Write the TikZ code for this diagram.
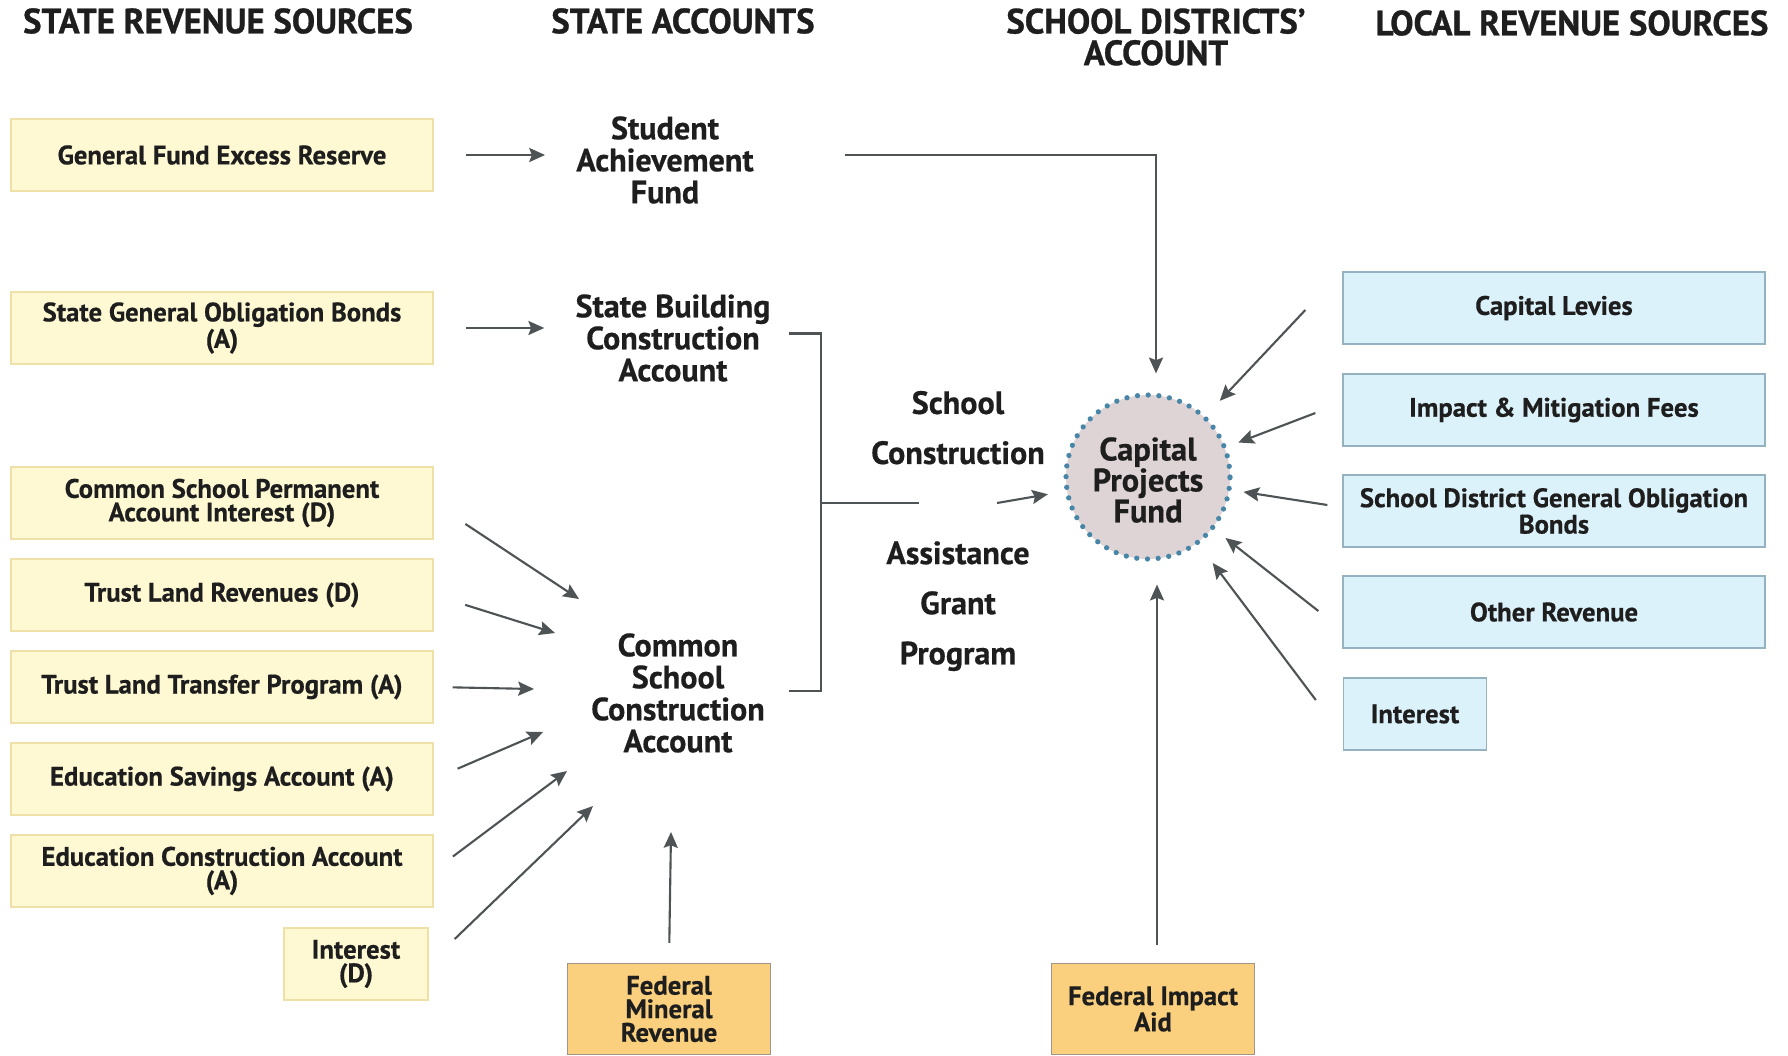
\documentclass[tikz,border=0pt]{standalone}
\usepackage{fontspec}
\setmainfont{PT Sans}[BoldFeatures={FakeBold=0.5}]
\newfontfamily\headfont{PT Sans}[FakeStretch=0.99, BoldFeatures={FakeBold=0.8}]
\usetikzlibrary{arrows.meta,positioning,calc}
\definecolor{Y}{RGB}{254,249,210}
\definecolor{Yb}{RGB}{238,224,166}
\definecolor{O}{RGB}{250,208,126}
\definecolor{Ob}{RGB}{160,150,135}
\definecolor{Bl}{RGB}{220,242,250}
\definecolor{Blb}{RGB}{150,178,192}
\definecolor{P}{RGB}{222,212,214}
\definecolor{D}{RGB}{72,134,168}
\definecolor{Ar}{RGB}{78,84,86}
\definecolor{T}{RGB}{30,30,30}
\tikzstyle{src} = [rectangle, draw=Yb, line width=0.8pt, fill=Y,
  minimum width=8.44cm, minimum height=1.44cm, align=center, text=T,
  font=\bfseries\fontsize{15.2}{13.4}\selectfont]
\tikzstyle{loc} = [src, draw=Blb, fill=Bl]
\tikzstyle{fed} = [src, draw=Ob, fill=O, minimum width=4.06cm, minimum height=1.82cm]
\tikzstyle{acct} = [align=center, inner sep=0pt, text=T,
  font=\bfseries\fontsize{18.3}{18.2}\selectfont]
\tikzstyle{hdr} = [align=center, inner sep=0pt, text=T,
  font=\headfont\bfseries\fontsize{20}{18}\selectfont]
\tikzstyle{pot} = [circle, fill=P, draw=D, line width=3pt, line cap=round,
  dash pattern=on 0pt off 6.1pt, minimum size=3.28cm, inner sep=0pt]
\tikzstyle{link} = [draw=Ar, line width=1.2pt]
\tikzstyle{flow} = [link, -{Stealth[length=9pt,width=8pt,inset=1.5pt]}]

\begin{document}
\begin{tikzpicture}[x=0.02cm, y=-0.02cm,
    node distance=1.84cm, % step between the trust land boxes
  ]
    \useasboundingbox[fill=white] (0,0) rectangle (1788,1055);

    % column titles
    \node[hdr] (h1) at (218,21) {STATE REVENUE SOURCES};
    \node[hdr] (h2) at (683,21) {STATE ACCOUNTS};
    \node[hdr] (h3) at (1156,37) {SCHOOL DISTRICTS’\\ACCOUNT};
    \node[hdr] (h4) at (1572,23) {LOCAL REVENUE SOURCES};

    % state sources
    \node[src] (gfer)  at (222,155) {General Fund Excess Reserve};
    \node[src] (sgob)  at (222,328) {State General Obligation Bonds\\(A)};
    \node[src] (cspai) at (222,503) {Common School Permanent\\Account Interest (D)};
    \node[src, below of=cspai] (tlr)  {Trust Land Revenues (D)};
    \node[src, below of=tlr]   (tltp) {Trust Land Transfer Program (A)};
    \node[src, below of=tltp]  (esa)  {Education Savings Account (A)};
    \node[src, below of=esa]   (eca)  {Education Construction Account\\(A)};
    \node[src, minimum width=2.88cm] (intd) at (356,964) {Interest\\(D)};

    % federal money
    \node[fed] (fmr) at (669,1009) {Federal\\Mineral\\Revenue};
    \node[fed] (fia) at (1153,1009) {Federal Impact\\Aid};

    % state accounts
    \node[acct] (saf)  at (665,160) {Student\\Achievement\\Fund};
    \node[acct] (sbca) at (673,338) {State Building\\Construction\\Account};
    \node[acct] (csca) at (678,693) {Common\\School\\Construction\\Account};
    \node[acct, font=\bfseries\fontsize{18.3}{28.5}\selectfont] (scag) at (958,531)
      {School\\Construction\\[28.5pt]Assistance\\Grant\\Program};

    % district account
    \node[pot] (cpf) at (1148,477) {};
    \node[align=center, text=T, font=\bfseries\fontsize{18.5}{17.6}\selectfont]
      (cpft) at (1148,480) {Capital\\Projects\\Fund};

    % local sources
    \node[loc] (cl)    at (1554,308) {Capital Levies};
    \node[loc] (imf)   at (1554,410) {Impact \& Mitigation Fees};
    \node[loc] (sdgob) at (1554,511) {School District General Obligation\\Bonds};
    \node[loc] (oth)   at (1554,612) {Other Revenue};
    \node[loc, minimum width=2.86cm] (lint) at (1415,714) {Interest};

    \coordinate (jn) at (821,503);
    \coordinate (g1) at (919,503);
    \coordinate (g2) at (997,503);
    \coordinate (c1) at (579,599);
    \coordinate (c2) at (555,633);
    \coordinate (c3) at (534,689);
    \coordinate (c4) at (543,732);
    \coordinate (c5) at (567,771);
    \coordinate (c6) at (593,806);
    \coordinate (c7) at (671,832);
    \coordinate (t1) at ($(cl.west)+(-37,2)$);
    \coordinate (t2) at ($(imf.west)+(-27,3)$);
    \coordinate (t3) at ($(sdgob.west)+(-15,-6)$);
    \coordinate (t4) at ($(oth.west)+(-24,-1)$);
    \coordinate (t5) at ($(lint.west)+(-27,-14)$);

    \draw[flow, shorten <=0.64cm, shorten >=0.62cm] (gfer.east) -- (saf.west |- gfer.east);
    \draw[flow, shorten <=0.64cm, shorten >=0.62cm] (sgob.east) -- (sbca.west |- sgob.east);
    \draw[flow, shorten <=1.82cm, shorten >=0.38cm] ([yshift=0.1cm]saf.east) -| ([xshift=0.16cm]cpf.north);

    \draw[link] ([xshift=0.36cm,yshift=0.09cm]sbca.east) -| (jn) |- ([xshift=0.48cm,yshift=0.04cm]csca.east);
    \draw[link] (jn) -- (g1);
    \draw[flow, shorten >=0.34cm] (g2) -- (cpf);

    \draw[flow, shorten <=0.76cm] (cspai.east) -- (c1);
    \draw[flow, shorten <=0.66cm] (tlr.east) -- (c2);
    \draw[flow, shorten <=0.38cm] (tltp.east) -- (c3);
    \draw[flow, shorten <=0.52cm] (esa.east) -- (c4);
    \draw[flow, shorten <=0.48cm] (eca.east) -- (c5);
    \draw[flow, shorten <=0.72cm] (intd.east) -- (c6);
    \draw[flow, shorten <=0.4cm] (fmr.north) -- (c7);
    \draw[flow, shorten <=0.36cm, shorten >=0.46cm] ([xshift=0.08cm]fia.north) -- ([xshift=0.08cm]fia.north |- cpf.south);

    \draw[flow, shorten >=0.40cm] (t1) -- (cpf);
    \draw[flow, shorten >=0.24cm] (t2) -- (cpf);
    \draw[flow, shorten >=0.24cm] (t3) -- (cpf);
    \draw[flow, shorten >=0.28cm] (t4) -- (cpf);
    \draw[flow, shorten >=0.46cm] (t5) -- (cpf);
  \end{tikzpicture}
\end{document}
